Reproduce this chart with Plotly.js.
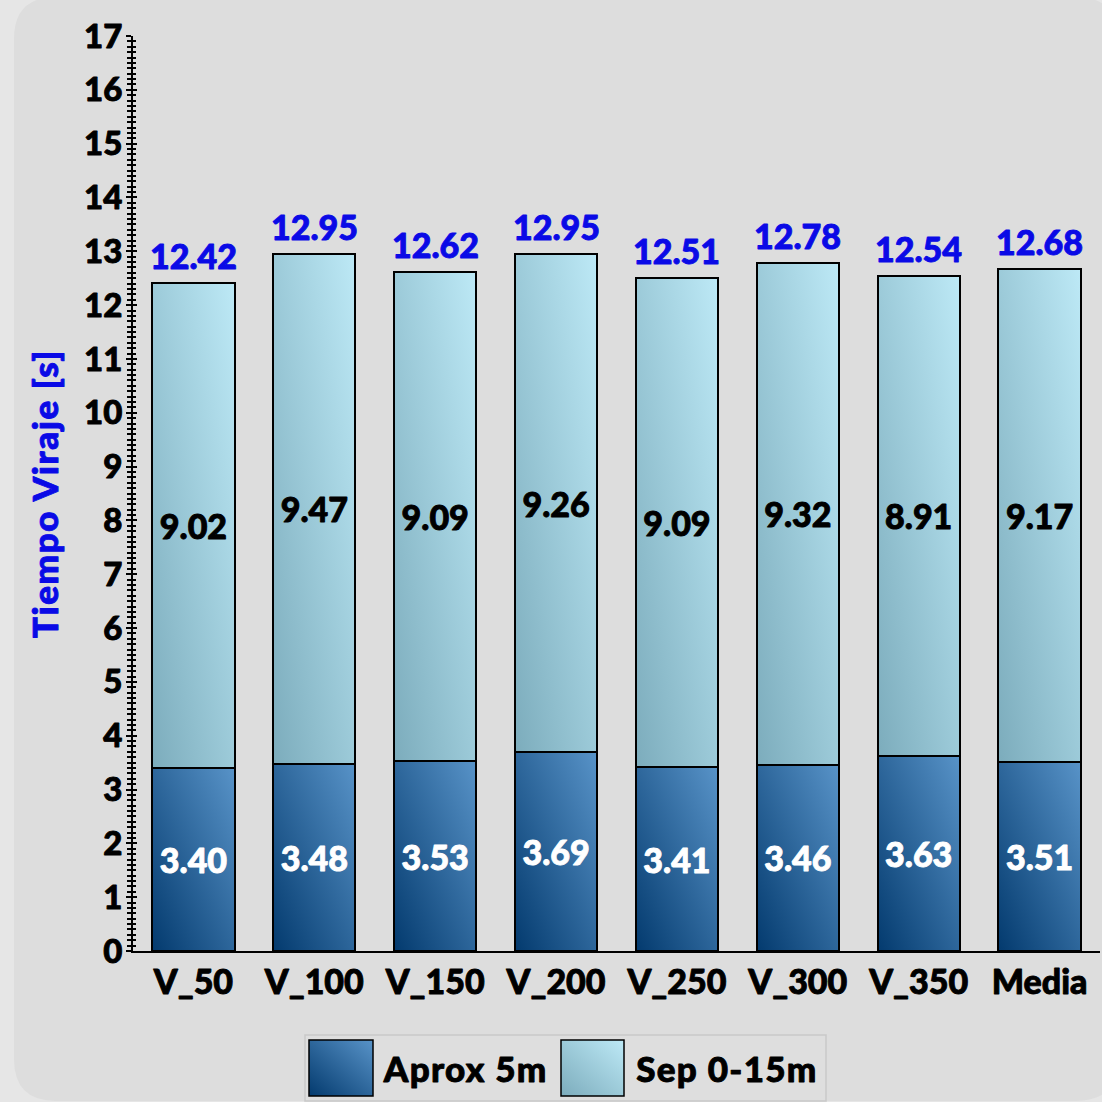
<!DOCTYPE html>
<html>
<head>
<meta charset="utf-8">
<script src="https://cdn.plot.ly/plotly-3.0.1.min.js"></script>
<style>
  html, body { margin: 0; padding: 0; background: #e6e6e6; }
  #chart { width: 1102px; height: 1102px; }
</style>
</head>
<body>
<div id="chart"></div>
<script>
// ---- data ----
const categories = ["V_50", "V_100", "V_150", "V_200", "V_250", "V_300", "V_350", "Media"];
const aprox5m   = [3.40, 3.48, 3.53, 3.69, 3.41, 3.46, 3.63, 3.51];
const sep015m   = [9.02, 9.47, 9.09, 9.26, 9.09, 9.32, 8.91, 9.17];
const totals    = [12.42, 12.95, 12.62, 12.95, 12.51, 12.78, 12.54, 12.68];
const seriesNames = ["Aprox 5m", "Sep 0-15m"];
const yTitle = "Tiempo Viraje [s]";

// ---- layout geometry helpers (pixels -> paper) ----
const L = 133, R = 1100, T = 36, B = 951;
const px = p => (p - L) / (R - L);
const py = p => (B - p) / (B - T);

const FONT = "'Lato Black', Lato, 'Open Sans', sans-serif";
const darkMid = "#2d669c", lightMid = "#9dcfdd";
const TXT = 34;

function roundRect(x0, y0, x1, y1, r) {
  const X = v => px(v).toFixed(5), Y = v => py(v).toFixed(5);
  return `M${X(x0 + r)},${Y(y0)} L${X(x1 - r)},${Y(y0)} Q${X(x1)},${Y(y0)} ${X(x1)},${Y(y0 + r)} ` +
         `L${X(x1)},${Y(y1 - r)} Q${X(x1)},${Y(y1)} ${X(x1 - r)},${Y(y1)} ` +
         `L${X(x0 + r)},${Y(y1)} Q${X(x0)},${Y(y1)} ${X(x0)},${Y(y1 - r)} ` +
         `L${X(x0)},${Y(y0 + r)} Q${X(x0)},${Y(y0)} ${X(x0 + r)},${Y(y0)} Z`;
}

const traces = [
  {
    type: "bar", name: seriesNames[0], x: categories, y: aprox5m,
    marker: { color: darkMid, line: { color: "#000", width: 2 } },
    text: aprox5m.map(v => v.toFixed(2)), textposition: "inside",
    insidetextanchor: "middle", textangle: 0, constraintext: "none",
    insidetextfont: { family: FONT, size: TXT, color: "#ffffff", weight: 900 },
    hoverinfo: "skip", showlegend: false
  },
  {
    type: "bar", name: seriesNames[1], x: categories, y: sep015m,
    marker: { color: lightMid, line: { color: "#000", width: 2 } },
    text: sep015m.map(v => v.toFixed(2)), textposition: "inside",
    insidetextanchor: "middle", textangle: 0, constraintext: "none",
    insidetextfont: { family: FONT, size: TXT, color: "#000000", weight: 900 },
    hoverinfo: "skip", showlegend: false
  },
  {
    // invisible carrier so the overlaid tick axis is drawn
    type: "scatter", mode: "none", x: categories, y: totals, yaxis: "y2",
    hoverinfo: "skip", showlegend: false
  }
];

const shapes = [
  { type: "path", xref: "paper", yref: "paper", layer: "below",
    path: roundRect(14, -3, 1118, 1101, 42),
    fillcolor: "#dddddd", line: { width: 0 } },
  { type: "rect", xref: "paper", yref: "paper", layer: "above",
    x0: px(305), x1: px(826), y0: py(1035), y1: py(1101),
    fillcolor: "#dedede", line: { color: "#c9c9c9", width: 1.5 } },
  { type: "rect", xref: "paper", yref: "paper", layer: "above",
    x0: px(309), x1: px(373), y0: py(1040), y1: py(1096),
    fillcolor: darkMid, line: { color: "#000", width: 1.5 } },
  { type: "rect", xref: "paper", yref: "paper", layer: "above",
    x0: px(561), x1: px(624), y0: py(1040), y1: py(1096),
    fillcolor: lightMid, line: { color: "#000", width: 1.5 } }
];

const annotations = [
  { xref: "paper", yref: "paper", x: px(386), y: py(1068), xanchor: "left", yanchor: "middle",
    text: seriesNames[0], showarrow: false,
    font: { family: FONT, size: 35, color: "#000", weight: 900 } },
  { xref: "paper", yref: "paper", x: px(640), y: py(1068), xanchor: "left", yanchor: "middle",
    text: seriesNames[1], showarrow: false,
    font: { family: FONT, size: 35, color: "#000", weight: 900 } }
].concat(categories.map((c, i) => ({
  xref: "x", yref: "y", x: c, y: totals[i], xanchor: "center", yanchor: "bottom",
  yshift: 5, text: totals[i].toFixed(2), showarrow: false,
  font: { family: FONT, size: TXT, color: "#0a0ae6", weight: 900 }
})));

const yCommon = {
  range: [0, 17], dtick: 1, showgrid: false, zeroline: false, fixedrange: true
};

const layout = {
  width: 1102, height: 1102,
  margin: { l: L, r: 1102 - R, t: T, b: 1102 - B, pad: 0 },
  paper_bgcolor: "#e6e6e6", plot_bgcolor: "rgba(0,0,0,0)",
  barmode: "stack", bargap: 0.32,
  showlegend: false,
  font: { family: FONT, color: "#000" },
  xaxis: {
    type: "category", range: [-0.5, 7.5], fixedrange: true,
    showline: true, linecolor: "#000", linewidth: 2,
    ticks: "", ticklabelstandoff: 0,
    tickfont: { family: FONT, size: TXT, color: "#000", weight: 900 },
    showgrid: false, zeroline: false
  },
  yaxis: Object.assign({}, yCommon, {
    showline: true, linecolor: "#000", linewidth: 2,
    ticks: "outside", ticklen: 5, tickwidth: 2, tickcolor: "#000",
    minor: { dtick: 0.1, ticks: "outside", ticklen: 4, tickwidth: 2, tickcolor: "#000", showgrid: false },
    ticklabelstandoff: -3,
    tickfont: { family: FONT, size: 33, color: "#000", weight: 900 },
    title: { text: yTitle, standoff: 15,
             font: { family: FONT, size: 35, color: "#0a0ae6", weight: 900 } }
  }),
  yaxis2: Object.assign({}, yCommon, {
    overlaying: "y", anchor: "x", side: "left",
    showline: false, showticklabels: false,
    ticks: "inside", ticklen: 4, tickwidth: 2, tickcolor: "#000",
    minor: { dtick: 0.1, ticks: "inside", ticklen: 3, tickwidth: 2, tickcolor: "#000", showgrid: false }
  }),
  shapes: shapes,
  annotations: annotations
};

function addGradients(gd) {
  const svg = gd.querySelector("svg.main-svg");
  if (!svg) return;
  let defs = svg.querySelector("defs");
  if (!defs) { defs = document.createElementNS("http://www.w3.org/2000/svg", "defs"); svg.prepend(defs); }
  if (!svg.querySelector("#gradDark")) {
    defs.insertAdjacentHTML("beforeend",
      '<linearGradient id="gradDark" x1="0" y1="1" x2="1" y2="0">' +
      '<stop offset="0" stop-color="#033a6e"/><stop offset="1" stop-color="#5893c8"/></linearGradient>' +
      '<linearGradient id="gradLight" x1="0" y1="1" x2="1" y2="0">' +
      '<stop offset="0" stop-color="#7cacbc"/><stop offset="1" stop-color="#bde9f6"/></linearGradient>');
  }
  gd.querySelectorAll(".barlayer .trace").forEach((g, i) => {
    const id = i === 0 ? "url(#gradDark)" : "url(#gradLight)";
    g.querySelectorAll(".point path").forEach(p => { p.style.fill = id; });
  });
  gd.querySelectorAll(".shapelayer path").forEach(p => {
    const idx = p.getAttribute("data-index");
    if (idx === "2") p.style.fill = "url(#gradDark)";
    if (idx === "3") p.style.fill = "url(#gradLight)";
  });
  gd.querySelectorAll("text").forEach(t => {
    const f = t.style.fill;
    if (f) { t.style.stroke = f; t.style.strokeWidth = "0.9px"; t.style.strokeLinejoin = "round"; }
  });
  gd.querySelectorAll(".ytitle").forEach(t => { t.style.letterSpacing = "1.6px"; });
  gd.querySelectorAll(".annotation").forEach(a => {
    const idx = a.getAttribute("data-index");
    if (idx === "0" || idx === "1") {
      a.querySelectorAll("text").forEach(t => { t.style.letterSpacing = "1.3px"; });
    }
  });
}

const gd = document.getElementById("chart");
Plotly.newPlot(gd, traces, layout, { staticPlot: true, displayModeBar: false }).then(() => {
  addGradients(gd);
  gd.on && gd.on("plotly_afterplot", () => addGradients(gd));
});
</script>
</body>
</html>
